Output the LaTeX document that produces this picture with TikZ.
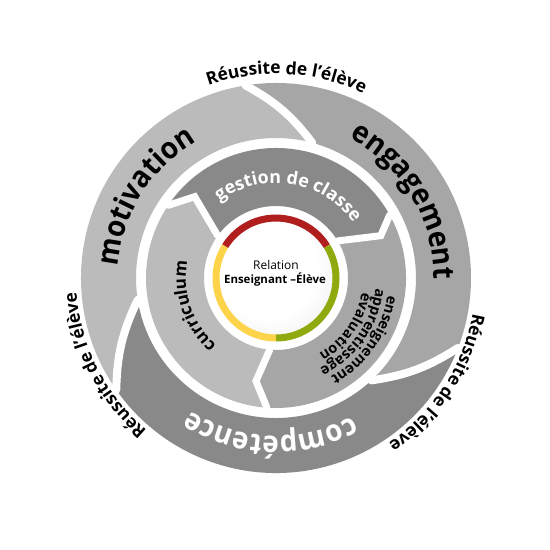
\documentclass[tikz,border=0pt]{standalone}
\usepackage{fontspec}
\setmainfont{Open Sans}
\newfontfamily\condfont[FakeStretch=0.93]{Open Sans}
\usetikzlibrary{decorations.text}
\definecolor{gA}{HTML}{BBBBBB}
\definecolor{gB}{HTML}{A6A6A6}
\definecolor{gC}{HTML}{898989}
\definecolor{ringred}{HTML}{B01E1E}
\definecolor{ringyel}{HTML}{FDD34A}
\definecolor{ringgrn}{HTML}{8FAA0E}
\pgfdeclareradialshading{discshade}{\pgfpoint{-6bp}{6bp}}{color(0bp)=(white); color(22bp)=(white); color(50bp)=(black!13); color(70bp)=(black!15)}
\newcommand\arctext[6]{%
  \path[decorate,decoration={text along path, text color=#4, text={|#5|#6}, text align=center}]
    ({#1+#3}:#2bp) arc[start angle={#1+#3}, end angle={#1-#3}, radius=#2bp];}
\tikzset{
  gapline/.style={white, line width=8bp, line cap=round},
  midgap/.style={white, line width=7bp, line cap=round, line join=miter},
  ringarc/.style={line width=7bp},
}
\begin{document}
\begin{tikzpicture}
\fill[white] (-276bp,-272bp) rectangle (274bp,278bp);
\useasboundingbox (-276bp,-272bp) rectangle (274bp,278bp);
% outer ring
\fill[gB] (75:140bp) to[bend right=12] (99:195bp) arc[start angle=99, end angle=-21, radius=195bp]
  to[bend left=12] (-47:140bp) arc[start angle=-47, end angle=75, radius=140bp] -- cycle;
\fill[gC] (-47:140bp) to[bend right=12] (-21:195bp) arc[start angle=-21, end angle=-145, radius=195bp]
  to[bend left=12] (-171:140bp) arc[start angle=-171, end angle=-47, radius=140bp] -- cycle;
\fill[gA] (189:140bp) to[bend right=12] (215:195bp) arc[start angle=215, end angle=99, radius=195bp]
  to[bend left=12] (75:140bp) arc[start angle=75, end angle=189, radius=140bp] -- cycle;
\draw[gapline] (75:140bp) to[bend right=12] (99:195bp);
\draw[gapline] (-47:140bp) to[bend right=12] (-21:195bp);
\draw[gapline] (189:140bp) to[bend right=12] (215:195bp);
% middle ring
\fill[gC] (146:130bp) arc[start angle=146, end angle=29, radius=130bp] -- (22:113bp) -- (31:72bp)
  arc[start angle=31, end angle=144, radius=72bp] -- (135:115bp) -- cycle;
\fill[gB] (29:130bp) arc[start angle=29, end angle=-94, radius=130bp] -- (-101:105bp) -- (-95:72bp)
  arc[start angle=-95, end angle=31, radius=72bp] -- (22:113bp) -- cycle;
\fill[gA] (-94:130bp) arc[start angle=-94, end angle=-214, radius=130bp] -- (135:115bp) -- (144:72bp)
  arc[start angle=144, end angle=265, radius=72bp] -- (-101:105bp) -- cycle;
\draw[midgap] (146:130bp) -- (135:115bp) -- (144:72bp);
\draw[midgap] (29:130bp) -- (22:113bp) -- (31:72bp);
\draw[midgap] (-94:130bp) -- (-101:105bp) -- (-95:72bp);
% centre
\shade[shading=discshade] (0,0) circle[radius=57bp];
\draw[ringarc, ringred] (32:60bp) arc[start angle=32, end angle=148, radius=60bp];
\draw[ringarc, ringyel] (148:60bp) arc[start angle=148, end angle=270, radius=60bp];
\draw[ringarc, ringgrn] (270:60bp) arc[start angle=270, end angle=392, radius=60bp];
\node[anchor=base, inner sep=0] (rel) at (0bp,8.7bp) {\fontsize{12}{14}\selectfont Relation};
\node[anchor=base, inner sep=0] (ens) at (-1bp,-5.3bp) {\fontsize{11.5}{14}\selectfont\bfseries Enseignant –Élève};
% texts
\arctext{87}{204}{70}{black}{\fontsize{17.5}{19}\selectfont\bfseries}{Réussite de l'élève}
\arctext{-33}{200}{70}{black}{\fontsize{17.5}{19}\selectfont\bfseries}{Réussite de l'élève}
\arctext{207}{200}{70}{black}{\fontsize{17.5}{19}\selectfont\bfseries}{Réussite de l'élève}
\arctext{148}{158}{60}{black}{\condfont\fontsize{30}{32}\selectfont\bfseries}{motivation}
\arctext{31}{158}{60}{black}{\condfont\fontsize{30}{32}\selectfont\bfseries}{engagement}
\arctext{268}{158}{60}{white}{\condfont\fontsize{30}{32}\selectfont\bfseries}{compétence}
\arctext{81}{95}{80}{white}{\fontsize{18}{20}\selectfont\bfseries}{gestion de classe}
\arctext{199}{90}{70}{black}{\fontsize{17}{19}\selectfont\bfseries}{curriculum}
\arctext{-35}{113}{70}{black}{\fontsize{14.5}{17}\selectfont\bfseries}{enseignement}
\arctext{-35}{100}{70}{black}{\fontsize{14.5}{17}\selectfont\bfseries}{apprentissage}
\arctext{-35}{87}{70}{black}{\fontsize{14.5}{17}\selectfont\bfseries}{évaluation}
\end{tikzpicture}
\end{document}
